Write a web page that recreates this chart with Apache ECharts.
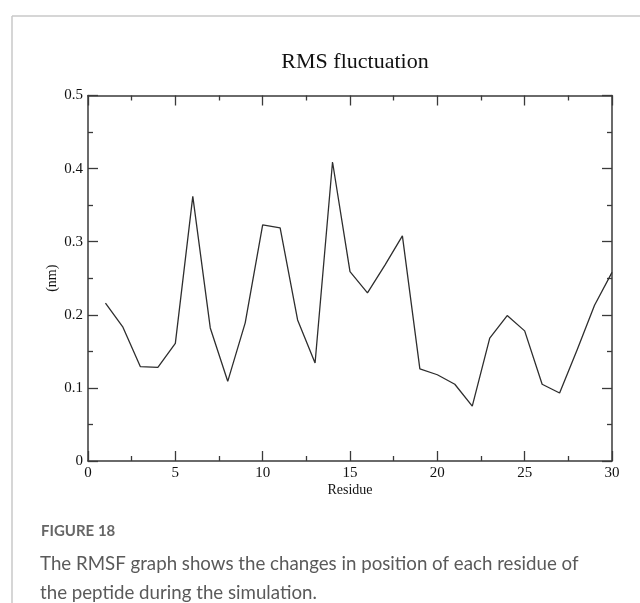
<!DOCTYPE html>
<html>
<head>
<meta charset="utf-8">
<script src="https://cdn.jsdelivr.net/npm/echarts@6/dist/echarts.min.js"></script>
<style>
  html, body { margin: 0; padding: 0; background: #fff; }
  #chart { width: 640px; height: 603px; }
</style>
</head>
<body>
<div id="chart"></div>
<script>
// RMSF per residue (nm)
const residues = [1, 2, 3, 4, 5, 6, 7, 8, 9, 10, 11, 12, 13, 14, 15,
                  16, 17, 18, 19, 20, 21, 22, 23, 24, 25, 26, 27, 28, 29, 30];
const rmsf = [0.216, 0.183, 0.129, 0.128, 0.161, 0.362, 0.182, 0.109, 0.189, 0.323,
              0.319, 0.193, 0.134, 0.409, 0.259, 0.230, 0.268, 0.308, 0.126, 0.118,
              0.105, 0.075, 0.168, 0.199, 0.178, 0.105, 0.093, 0.152, 0.213, 0.258];
const xTicks = { min: 0, max: 30, interval: 5 };
const yTicks = { min: 0, max: 0.5, interval: 0.1 };

const serif = '"Liberation Serif", "DejaVu Serif", serif';
const sans = 'Lato, "Open Sans", sans-serif';
const axisColor = '#3a3a3a';

const chart = echarts.init(document.getElementById('chart'), null, { renderer: 'canvas' });

function frameAxis(extra) {
  return Object.assign({
    type: 'value',
    axisLine: { show: true, onZero: false, lineStyle: { color: axisColor, width: 1.5 } },
    axisTick: { show: true, inside: true, length: 10, lineStyle: { color: axisColor, width: 1.3 } },
    minorTick: { show: true, splitNumber: 2, length: 5, lineStyle: { color: axisColor, width: 1.3 } },
    splitLine: { show: false },
    minorSplitLine: { show: false }
  }, extra);
}

chart.setOption({
  animation: false,
  backgroundColor: '#fff',
  title: {
    text: 'RMS fluctuation',
    left: 350, top: 46, textAlign: 'center',
    textStyle: { fontFamily: serif, fontSize: 22, fontWeight: 'normal', color: '#111' }
  },
  grid: { left: 88, right: 28, top: 95.5, bottom: 142 },
  xAxis: [
    frameAxis({
      position: 'bottom', min: xTicks.min, max: xTicks.max, interval: xTicks.interval,
      name: 'Residue', nameLocation: 'middle', nameGap: 22, nameMoveOverlap: false,
      nameTextStyle: { fontFamily: serif, fontSize: 14, color: '#111' },
      axisLabel: { show: true, margin: 5, fontFamily: serif, fontSize: 15, color: '#111' }
    }),
    frameAxis({
      position: 'top', min: xTicks.min, max: xTicks.max, interval: xTicks.interval,
      axisLabel: { show: false }
    })
  ],
  yAxis: [
    frameAxis({
      position: 'left', min: yTicks.min, max: yTicks.max, interval: yTicks.interval,
      name: '(nm)', nameLocation: 'middle', nameGap: 29, nameRotate: 90, nameMoveOverlap: false,
      nameTextStyle: { fontFamily: serif, fontSize: 14, color: '#111' },
      axisLabel: { show: true, margin: 5, fontFamily: serif, fontSize: 15, color: '#111' }
    }),
    frameAxis({
      position: 'right', min: yTicks.min, max: yTicks.max, interval: yTicks.interval,
      axisLabel: { show: false }
    })
  ],
  series: [{
    type: 'line',
    xAxisIndex: 0, yAxisIndex: 0,
    data: residues.map((r, i) => [r, rmsf[i]]),
    showSymbol: false,
    lineStyle: { color: '#2e2e2e', width: 1.3 }
  }],
  graphic: [
    // page frame lines
    { type: 'line', shape: { x1: 12, y1: 16, x2: 640, y2: 16 }, style: { stroke: '#c8c8c8', lineWidth: 1.5 } },
    { type: 'line', shape: { x1: 12, y1: 16, x2: 12, y2: 603 }, style: { stroke: '#c8c8c8', lineWidth: 1.5 } },
    {
      type: 'text', left: 41, top: 524,
      style: { text: 'FIGURE 18', fontFamily: sans, fontSize: 15, fontWeight: 'bold', fill: '#666' }
    },
    {
      type: 'text', left: 40, top: 549,
      style: {
        text: 'The RMSF graph shows the changes in position of each residue of\nthe peptide during the simulation.',
        fontFamily: sans, fontSize: 18.7, lineHeight: 29, fill: '#5a5a5a'
      }
    }
  ]
});
</script>
</body>
</html>
